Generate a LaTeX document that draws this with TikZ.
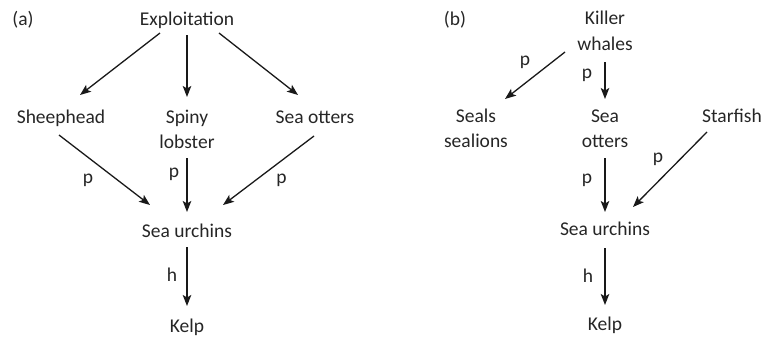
\documentclass[tikz,border=0pt]{standalone}
\usepackage{fontspec}
\setmainfont{Carlito}
\usetikzlibrary{arrows.meta}
\begin{document}
\begin{tikzpicture}[x=1pt,y=-1pt,
  lbl/.style={font=\fontsize{19.5}{25.5}\selectfont, inner sep=0pt, align=center, text=black!85, anchor=base},
  plbl/.style={font=\fontsize{19.5}{25.5}\selectfont, inner sep=0pt, text=black!85},
  arr/.style={line width=1.3pt, -{Stealth[length=11pt,width=8.5pt,inset=2.5pt]}, black!90}]
\useasboundingbox (0,0) rectangle (771,338);
% (a)
\node[lbl] (la) at (23,25) {(a)};
\node[lbl] (expl) at (187,25) {Exploitation};
\node[lbl] (sheep) at (61,123) {Sheephead};
\node[lbl] (spiny) at (187,148.5) {Spiny\\lobster};
\node[lbl] (otta) at (315,123) {Sea otters};
\node[lbl] (urcha) at (187,237) {Sea urchins};
\node[lbl] (kelpa) at (187,332) {Kelp};
\coordinate (e1) at (160,33); \coordinate (e1t) at (80,95);
\coordinate (e2) at (187,35); \coordinate (e2t) at (187,97);
\coordinate (e3) at (219,33); \coordinate (e3t) at (298,95);
\draw[arr] (e1) -- (e1t);
\draw[arr] (e2) -- (e2t);
\draw[arr] (e3) -- (e3t);
\coordinate (s1) at (59,135); \coordinate (s1t) at (150,205);
\coordinate (s2) at (187,158); \coordinate (s2t) at (187,212);
\coordinate (s3) at (314,136); \coordinate (s3t) at (223,205);
\draw[arr] (s1) -- (s1t);
\draw[arr] (s2) -- (s2t);
\draw[arr] (s3) -- (s3t);
\node[plbl] (pa1) at (88,180.5) {p};
\node[plbl] (pa2) at (174,174.5) {p};
\node[plbl] (pa3) at (281.5,180.5) {p};
\coordinate (h1) at (187,247); \coordinate (h1t) at (187,306);
\draw[arr] (h1) -- (h1t);
\node[plbl] (ha) at (172,274.5) {h};
% (b)
\node[lbl] (lb) at (455,25) {(b)};
\node[lbl] (killer) at (605,50) {Killer\\whales};
\node[lbl] (seals) at (476,147.5) {Seals\\sealions};
\node[lbl] (ottb) at (605,147.5) {Sea\\otters};
\node[lbl] (star) at (732,122) {Starfish};
\node[lbl] (urchb) at (605,235) {Sea urchins};
\node[lbl] (kelpb) at (605,330) {Kelp};
\coordinate (k1) at (565,52); \coordinate (k1t) at (505,99);
\coordinate (k2) at (605,62); \coordinate (k2t) at (605,99);
\draw[arr] (k1) -- (k1t);
\draw[arr] (k2) -- (k2t);
\node[plbl] (pb1) at (525,62.5) {p};
\node[plbl] (pb2) at (587,75.5) {p};
\coordinate (f1) at (707,132); \coordinate (f1t) at (633,207);
\coordinate (o1) at (605,158); \coordinate (o1t) at (605,212);
\draw[arr] (f1) -- (f1t);
\draw[arr] (o1) -- (o1t);
\node[plbl] (pb3) at (658,159.5) {p};
\node[plbl] (pb4) at (587,180.5) {p};
\coordinate (hb) at (605,248); \coordinate (hbt) at (605,305);
\draw[arr] (hb) -- (hbt);
\node[plbl] (hbl) at (588,275.5) {h};
\end{tikzpicture}
\end{document}
